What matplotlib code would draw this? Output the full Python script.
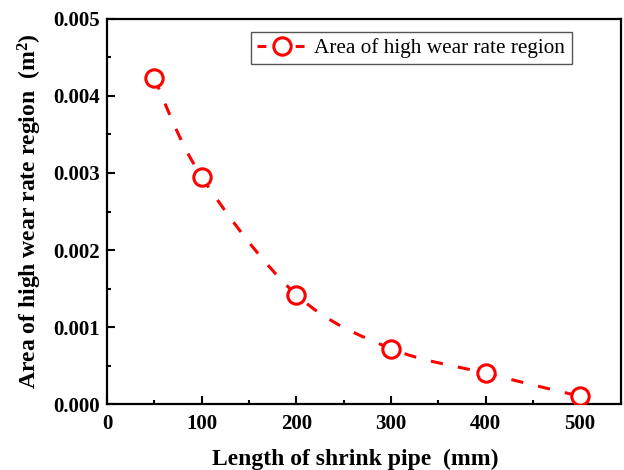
import matplotlib
matplotlib.use("Agg")
import matplotlib.pyplot as plt
from matplotlib.path import Path
from matplotlib.patches import PathPatch
from matplotlib.lines import Line2D
from matplotlib.ticker import MultipleLocator, FormatStrFormatter
import numpy as np

# data
length_mm = [50, 100, 200, 300, 400, 500]
area_m2 = [0.00423, 0.00295, 0.00142, 0.00072, 0.00040, 0.00010]

plt.rcParams["font.family"] = ["Liberation Serif", "DejaVu Serif"]
plt.rcParams["mathtext.fontset"] = "custom"
plt.rcParams["mathtext.bf"] = "Liberation Serif:bold"
plt.rcParams["mathtext.rm"] = "Liberation Serif"

fig = plt.figure(figsize=(6.24, 4.70), dpi=100)
ax = fig.add_axes([0.1715, 0.1404, 0.8235, 0.8192])

red = "#ff0000"
lw = 2.2
dash = (0, (4.0, 5.0))

# smooth (Catmull-Rom -> cubic Bezier) connecting line, like Origin's spline line
x = np.array(length_mm, dtype=float)
y = np.array(area_m2, dtype=float)
verts = [(x[0], y[0])]
codes = [Path.MOVETO]
for i in range(len(x) - 1):
    x0, y0 = (x[i - 1], y[i - 1]) if i > 0 else (x[i], y[i])
    x3, y3 = (x[i + 2], y[i + 2]) if i + 2 < len(x) else (x[i + 1], y[i + 1])
    c1 = (x[i] + (x[i + 1] - x0) / 6, y[i] + (y[i + 1] - y0) / 6)
    c2 = (x[i + 1] - (x3 - x[i]) / 6, y[i + 1] - (y3 - y[i]) / 6)
    verts += [c1, c2, (x[i + 1], y[i + 1])]
    codes += [Path.CURVE4] * 3
ax.add_patch(PathPatch(Path(verts, codes), fill=False, edgecolor=red,
                       lw=lw, linestyle=dash, zorder=2))

ax.plot(length_mm, area_m2, linestyle="none", marker="o", ms=12.5,
        mfc="white", mec=red, mew=lw, zorder=3)

ax.set_xlim(0, 543)
ax.set_ylim(0, 0.005)
ax.xaxis.set_major_locator(MultipleLocator(100))
ax.xaxis.set_minor_locator(MultipleLocator(50))
ax.yaxis.set_major_locator(MultipleLocator(0.001))
ax.yaxis.set_minor_locator(MultipleLocator(0.0005))
ax.yaxis.set_major_formatter(FormatStrFormatter("%.3f"))

ax.tick_params(which="both", direction="in", width=1.5)
ax.tick_params(which="major", length=6, labelsize=15)
ax.tick_params(which="minor", length=3)
ax.tick_params(axis="x", which="major", pad=7)
ax.tick_params(axis="y", which="major", pad=5)
for lab in ax.get_xticklabels() + ax.get_yticklabels():
    lab.set_fontweight("bold")
for s in ax.spines.values():
    s.set_linewidth(1.6)

ax.set_xlabel("Length of shrink pipe  (mm)", fontsize=17, fontweight="bold", labelpad=11)
ax.xaxis.label.set_x(0.484)
ax.set_ylabel("Area of high wear rate region  (m$\\mathbf{^2}$)", fontsize=17,
              fontweight="bold", labelpad=7)

# legend key: one short dash on each side of the circle, with a small gap
handle = Line2D([], [], color=red, lw=lw, linestyle=(0, (2.9, 9.6)), marker="o", ms=12.5,
                mfc="white", mec=red, mew=lw)
leg = ax.legend([handle], ["Area of high wear rate region"], loc="upper right",
                bbox_to_anchor=(0.904, 0.967), fontsize=15.3, fancybox=False,
                framealpha=1, edgecolor="#555555", handlelength=2.35,
                borderpad=0.3, handletextpad=0.35, borderaxespad=0)
leg.get_frame().set_linewidth(1.0)

fig.savefig("out.png", dpi=100)
